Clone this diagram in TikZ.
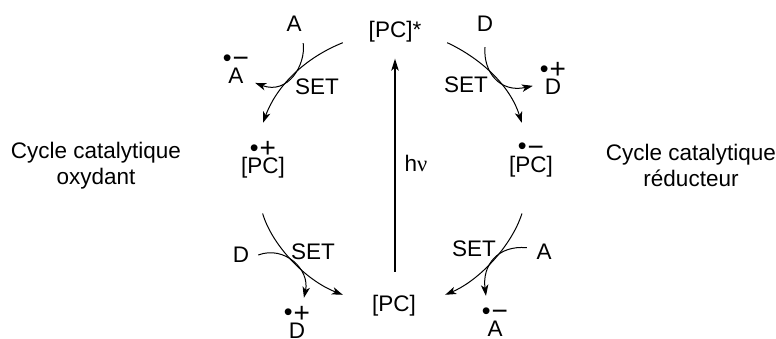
\documentclass[tikz,border=0pt]{standalone}
\usepackage{fontspec}
\setmainfont{Liberation Sans}
\newfontfamily\nufont{Liberation Serif}
\usepackage{xcolor}
\usetikzlibrary{arrows.meta,positioning}
\newcommand{\radsign}[1]{\raisebox{1.5pt}{\fontsize{25}{20}\selectfont •}{\kern1pt\fontsize{28}{20}\selectfont #1}\\[-4pt]}

\begin{document}
\begin{tikzpicture}[
  x=1pt, y=-1pt,
  lab/.style  = {inner sep=0pt, align=center, font=\fontsize{22.5}{20}\selectfont},
  titl/.style = {inner sep=0pt, align=center, font=\fontsize{22.5}{25.5}\selectfont},
  crb/.style  = {line width=1pt},
  arr/.style  = {crb, -{Stealth[length=11pt, width=7.5pt, inset=3pt]}},
  harr/.style = {line width=1.2pt, -{Stealth[length=12pt, width=7.5pt, inset=3pt]}}
]
\useasboundingbox (0,0) rectangle (776,338);

% Photocatalyseur
\node[lab, minimum width=104pt, minimum height=18pt] (pcstar) at (395,32)  {[PC]*};
\node[lab, minimum width=102pt, minimum height=22pt] (pc)     at (394,306) {[PC]};
\node[lab, minimum height=74pt] (pcox)  at (263,160) {\radsign{+}[PC]};
\node[lab, minimum height=74pt] (pcred) at (531,160) {\radsign{−}[PC]};

% Donneurs et accepteurs
\node[lab, minimum width=18pt, minimum height=38pt] (atop)   at (294,24)  {A};
\node[lab, minimum height=46pt]                     (dtop)   at (485,24)  {D};
\node[lab, minimum width=34pt]                      (dbot)   at (241,255) {D};
\node[lab, minimum width=34pt]                      (abot)   at (544,252) {A};
\node[lab, minimum width=38pt]                      (aminus) at (236,69)  {\radsign{−}A};
\node[lab, minimum width=40pt]                      (dplus)  at (553,78.5) {\radsign{+}D};
\node[lab, minimum height=48pt]                     (dplusb) at (297,322) {\radsign{+}D};
\node[lab, minimum height=52pt]                     (aminusb) at (495,322) {\radsign{−}A};

% Titres
\node[titl] (oxy) at (96,165.5)  {Cycle catalytique\\oxydant};
\node[titl] (red) at (691,165.5) {Cycle catalytique\\réducteur};

% Arcs principaux
\draw[arr] (pcstar.south west) .. controls (300,60) and (275,90) .. (pcox.north);
\draw[arr] (pcstar.south east) .. controls (480,58) and (510,85) .. (pcred.104);
\draw[arr, shorten <=17pt] (pcox.-98) .. controls (272,245) and (305,280) .. (pc.north west);
\draw[arr, shorten <=17pt] (pcred.-96) .. controls (512,245) and (480,280) .. (pc.north east);

% Arcs secondaires
\draw[arr] (atop.south east) .. controls (306,65) and (288,95) .. (aminus.-36);
\draw[arr] (dtop.south) .. controls (483,72) and (500,93) .. (dplus.200);
\draw[arr] (dbot.east) .. controls (285,245) and (310,270) .. (dplusb.74);
\draw[arr] (abot.166) .. controls (498,245) and (482,265) .. (aminusb.109);

% Excitation
\draw[harr, shorten <=23pt, shorten >=16pt] (pc.north -| pcstar.south) -- (pcstar.south)
  node[lab, pos=0.52, right=9pt] (hnu) {h{\nufont ν}};

% SET
\node[lab] (set1) at (317,87)  {SET};
\node[lab] (set2) at (466,85)  {SET};
\node[lab] (set3) at (313,252) {SET};
\node[lab] (set4) at (474,249) {SET};

\end{tikzpicture}
\end{document}
